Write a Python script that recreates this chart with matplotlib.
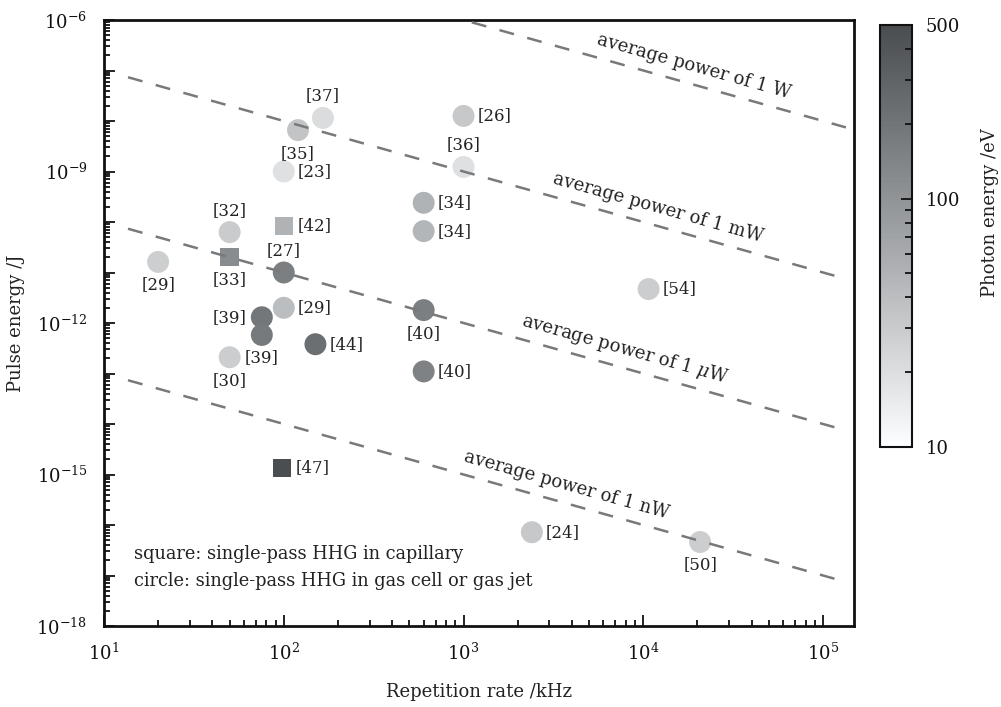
import numpy as np
import matplotlib
matplotlib.use('Agg')
import matplotlib.pyplot as plt
from matplotlib.colors import LogNorm, LinearSegmentedColormap
from matplotlib.ticker import LogLocator, FuncFormatter, NullFormatter
import matplotlib.cm as cm

# ---------------- data ----------------
refs = ['[29]', '[32]', '[33]', '[42]', '[27]', '[35]', '[37]', '[23]', '[26]', '[36]',
        '[34]', '[34]', '[40]', '[29]', '[39]', '[39]', '[30]', '[44]', '[40]', '[47]',
        '[54]', '[24]', '[50]']
rep_rate_khz = [20, 50, 50, 100, 100, 120, 165, 100, 1000, 1000,
                600, 600, 600, 100, 75.5, 75.5, 50, 150, 600, 97.5,
                10700, 2400, 20700]
pulse_energy_j = [1.62e-11, 6.3e-11, 2.04e-11, 8.3e-11, 1.0e-11, 6.6e-9, 1.15e-8, 1.0e-9, 1.26e-8, 1.23e-9,
                  2.4e-10, 6.6e-11, 1.8e-12, 2.0e-12, 1.3e-12, 5.8e-13, 2.1e-13, 3.8e-13, 1.1e-13, 1.35e-15,
                  4.7e-12, 7.2e-17, 4.6e-17]
photon_energy_ev = [28, 30, 120, 50, 160, 35, 21, 19, 32, 19,
                    50, 47, 160, 40, 190, 180, 29, 230, 150, 480,
                    29, 32, 29]
shapes = ['o', 'o', 's', 's', 'o', 'o', 'o', 'o', 'o', 'o',
          'o', 'o', 'o', 'o', 'o', 'o', 'o', 'o', 'o', 's',
          'o', 'o', 'o']
label_side = ['below', 'above', 'below', 'right', 'above', 'below', 'above', 'right', 'right', 'above',
              'right', 'right', 'below', 'right', 'left', 'below', 'below', 'right', 'right', 'right',
              'right', 'right', 'below']

power_levels_w = [1.0, 1e-3, 1e-6, 1e-9]
power_labels = ['average power of 1 W', 'average power of 1 mW',
                r'average power of 1 $\mu$W', 'average power of 1 nW']
power_label_x_khz = [18000, 11400, 7450, 3500]
line_range_khz = [13.6, 1.34e5]

x_ticklabels = [r'$10^{1}$', r'$10^{2}$', r'$10^{3}$', r'$10^{4}$', r'$10^{5}$']
x_ticks = [1e1, 1e2, 1e3, 1e4, 1e5]
cbar_ticks = [10, 100, 500]
cbar_ticklabels = ['10', '100', '500']

# ---------------- style ----------------
plt.rcParams['font.family'] = ['DejaVu Serif']
plt.rcParams['mathtext.fontset'] = 'dejavuserif'

W, H = 1001, 707
fig = plt.figure(figsize=(W / 100, H / 100), dpi=100)
ax = fig.add_axes([104 / W, 1 - 626 / H, 750 / W, 606 / H])
cax = fig.add_axes([880 / W, 1 - 447 / H, 32 / W, 422 / H])

cmap = LinearSegmentedColormap.from_list('greyish', ['#fdfeff', '#a0a3a6', '#4a4d50'])
norm = LogNorm(vmin=10, vmax=500)

ax.set_xscale('log')
ax.set_yscale('log')
ax.set_xlim(10, 10 ** 5.172)
ax.set_ylim(1e-18, 1e-6)

x = np.array(rep_rate_khz)
y = np.array(pulse_energy_j)
c = np.array(photon_energy_ev)
shp = np.array(shapes)
for m, sz in (('o', 250), ('s', 175)):
    sel = shp == m
    ax.scatter(x[sel], y[sel], c=c[sel], cmap=cmap, norm=norm, marker=m, s=sz,
               edgecolors='none', zorder=2)

# average power lines
fr = np.logspace(np.log10(line_range_khz[0]), np.log10(line_range_khz[1]), 50)
for P in power_levels_w:
    ax.plot(fr, P / (fr * 1e3), color='#77797b', lw=1.8, dashes=(6, 5.5), zorder=3)

# angle of lines in display space
p1 = ax.transData.transform((1e2, 1e-9))
p2 = ax.transData.transform((1e3, 1e-10))
ang = np.degrees(np.arctan2(p2[1] - p1[1], p2[0] - p1[0]))
nx, ny = -np.sin(np.radians(ang)), np.cos(np.radians(ang))
for P, lab, xl in zip(power_levels_w, power_labels, power_label_x_khz):
    ax.annotate(lab, xy=(xl, P / (xl * 1e3)), xytext=(nx * 18, ny * 18),
                textcoords='offset pixels', rotation=ang, rotation_mode='anchor',
                ha='center', va='center', fontsize=13, color='#222222', zorder=4)

# reference labels
offs = {'above': (0, 22, 'center'), 'below': (0, -23, 'center'),
        'right': (14, 0, 'left'), 'left': (-15, 0, 'right')}
for r, xi, yi, side in zip(refs, rep_rate_khz, pulse_energy_j, label_side):
    dx, dy, ha = offs[side]
    ax.annotate(r, xy=(xi, yi), xytext=(dx, dy), textcoords='offset pixels',
                ha=ha, va='center', fontsize=12, color='#222222')

ax.text(0.04, 0.118, 'square: single-pass HHG in capillary', transform=ax.transAxes,
        fontsize=12.8, va='center', ha='left', color='#222222')
ax.text(0.04, 0.075, 'circle: single-pass HHG in gas cell or gas jet', transform=ax.transAxes,
        fontsize=12.8, va='center', ha='left', color='#222222')

# ticks
ax.set_xticks(x_ticks)
ax.set_xticklabels(x_ticklabels)
ax.xaxis.set_minor_locator(LogLocator(base=10, subs=np.arange(2, 10), numticks=50))
ax.xaxis.set_minor_formatter(NullFormatter())
ax.yaxis.set_major_locator(LogLocator(base=10, numticks=30))
ax.yaxis.set_minor_locator(LogLocator(base=10, subs=np.arange(2, 10), numticks=100))
ax.yaxis.set_major_formatter(FuncFormatter(
    lambda v, p: (r'$10^{%d}$' % int(round(np.log10(v)))) if int(round(np.log10(v))) % 3 == 0 else ''))
ax.yaxis.set_minor_formatter(NullFormatter())
ax.tick_params(which='both', direction='in', top=False, right=False, width=1.3, colors='#111111')
ax.tick_params(which='major', length=8, labelsize=13, pad=12)
ax.tick_params(which='minor', length=4)
for s in ax.spines.values():
    s.set_linewidth(2)
    s.set_color('#111111')

ax.set_xlabel('Repetition rate /kHz', fontsize=13, labelpad=14, color='#222222')
ax.set_ylabel('Pulse energy /J', fontsize=13, labelpad=8, color='#222222')

# colorbar
sm = cm.ScalarMappable(norm=norm, cmap=cmap)
cb = fig.colorbar(sm, cax=cax)
cb.set_ticks(cbar_ticks)
cb.set_ticklabels(cbar_ticklabels)
cax.tick_params(which='both', direction='in', width=1.3, colors='#111111')
cax.tick_params(which='major', length=8, labelsize=13, pad=10)
cax.tick_params(which='minor', length=5)
cb.outline.set_linewidth(1.5)
cb.outline.set_edgecolor('#111111')
fig.text(990 / W, 1 - 213 / H, 'Photon energy /eV', rotation=90, ha='center', va='center',
         fontsize=13, color='#222222')

fig.savefig('out.png', dpi=100)
